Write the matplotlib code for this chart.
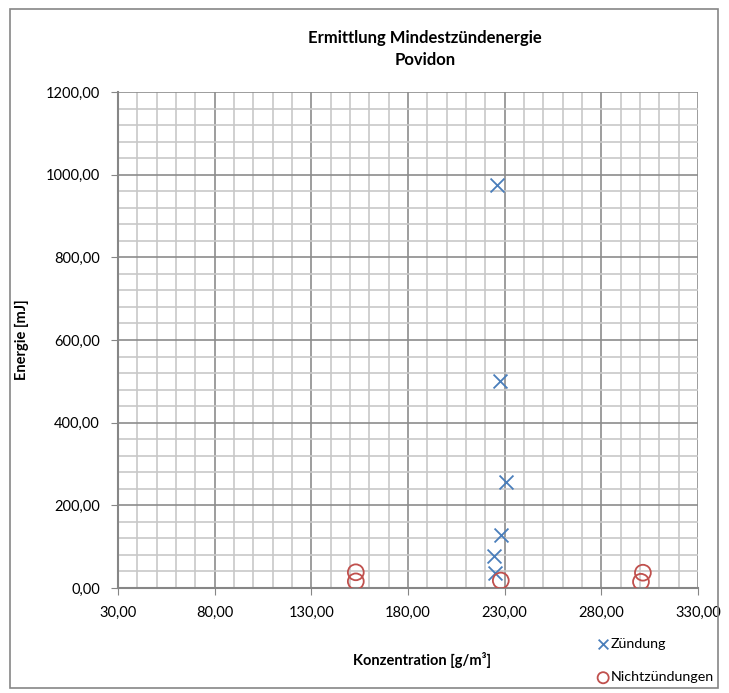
import matplotlib
matplotlib.use("Agg")
import matplotlib.pyplot as plt
from matplotlib.ticker import MultipleLocator, FuncFormatter, FixedLocator
from matplotlib.patches import Rectangle

plt.rcParams['font.family'] = ['Lato', 'DejaVu Sans']

zuendung_x = [226, 227.5, 230.5, 228, 224.5, 225]
zuendung_y = [975, 500, 256, 128, 77, 37]
nicht_x = [228, 153, 153, 301.5, 300.5]
nicht_y = [18, 38, 16, 37, 15]
x_ticks = [30, 80, 130, 180, 230, 280, 330]

title = "Ermittlung Mindestzündenergie\nPovidon"
xlabel = "Konzentration [g/m³]"
ylabel = "Energie [mJ]"

fig = plt.figure(figsize=(7.29, 6.93), dpi=100)
fig.patches.append(Rectangle((10/729, 1-688/693), 708/729, 679/693, transform=fig.transFigure,
                             fill=False, edgecolor='#868686', linewidth=1.2))
ax = fig.add_axes([118/729, 1-588/693, 580/729, 496/693])
ax.set_xlim(30, 330)
ax.set_ylim(0, 1200)
ax.xaxis.set_major_locator(FixedLocator(x_ticks))
ax.xaxis.set_minor_locator(MultipleLocator(10))
ax.yaxis.set_major_locator(MultipleLocator(200))
ax.yaxis.set_minor_locator(MultipleLocator(40))
fmt = FuncFormatter(lambda v, p: f"{v:.2f}".replace('.', ','))
ax.xaxis.set_major_formatter(fmt)
ax.yaxis.set_major_formatter(fmt)
ax.grid(which='minor', color='#c8c8c8', linewidth=1.2)
ax.grid(which='major', color='#8c8c8c', linewidth=1.2)
ax.set_axisbelow(True)
ax.tick_params(which='minor', length=0)
ax.tick_params(which='major', length=5, color='#868686', labelsize=10.5, pad=8)
for s in ['top', 'right']:
    ax.spines[s].set_visible(False)
for s in ['left', 'bottom']:
    ax.spines[s].set_color('#868686')
    ax.spines[s].set_linewidth(1.5)

ax.scatter(zuendung_x, zuendung_y, marker='x', s=100, color='#4a7ebb', linewidths=1.3,
           label='Zündung', zorder=3)
ax.scatter(nicht_x, nicht_y, marker='o', s=130, facecolors='none', edgecolors='#c0504d',
           linewidths=1.3, label='Nichtzündungen', zorder=3)

fig.text(425/729, 1-49/693, title, ha='center', va='center', fontsize=12,
         fontweight='bold', linespacing=1.4)
fig.text(422/729, 1-660/693, xlabel, ha='center', va='center', fontsize=10.5, fontweight='bold')
fig.text(22/729, 1-340/693, ylabel, ha='center', va='center', fontsize=10.5,
         fontweight='bold', rotation=90)

leg = fig.legend(loc='upper left', bbox_to_anchor=(596/729, 1-638/693), frameon=False,
                 fontsize=10.3, handletextpad=0.05, labelspacing=1.5, handlelength=1.0,
                 markerscale=0.7, borderaxespad=0, borderpad=0)

fig.savefig("out.png", dpi=100)
